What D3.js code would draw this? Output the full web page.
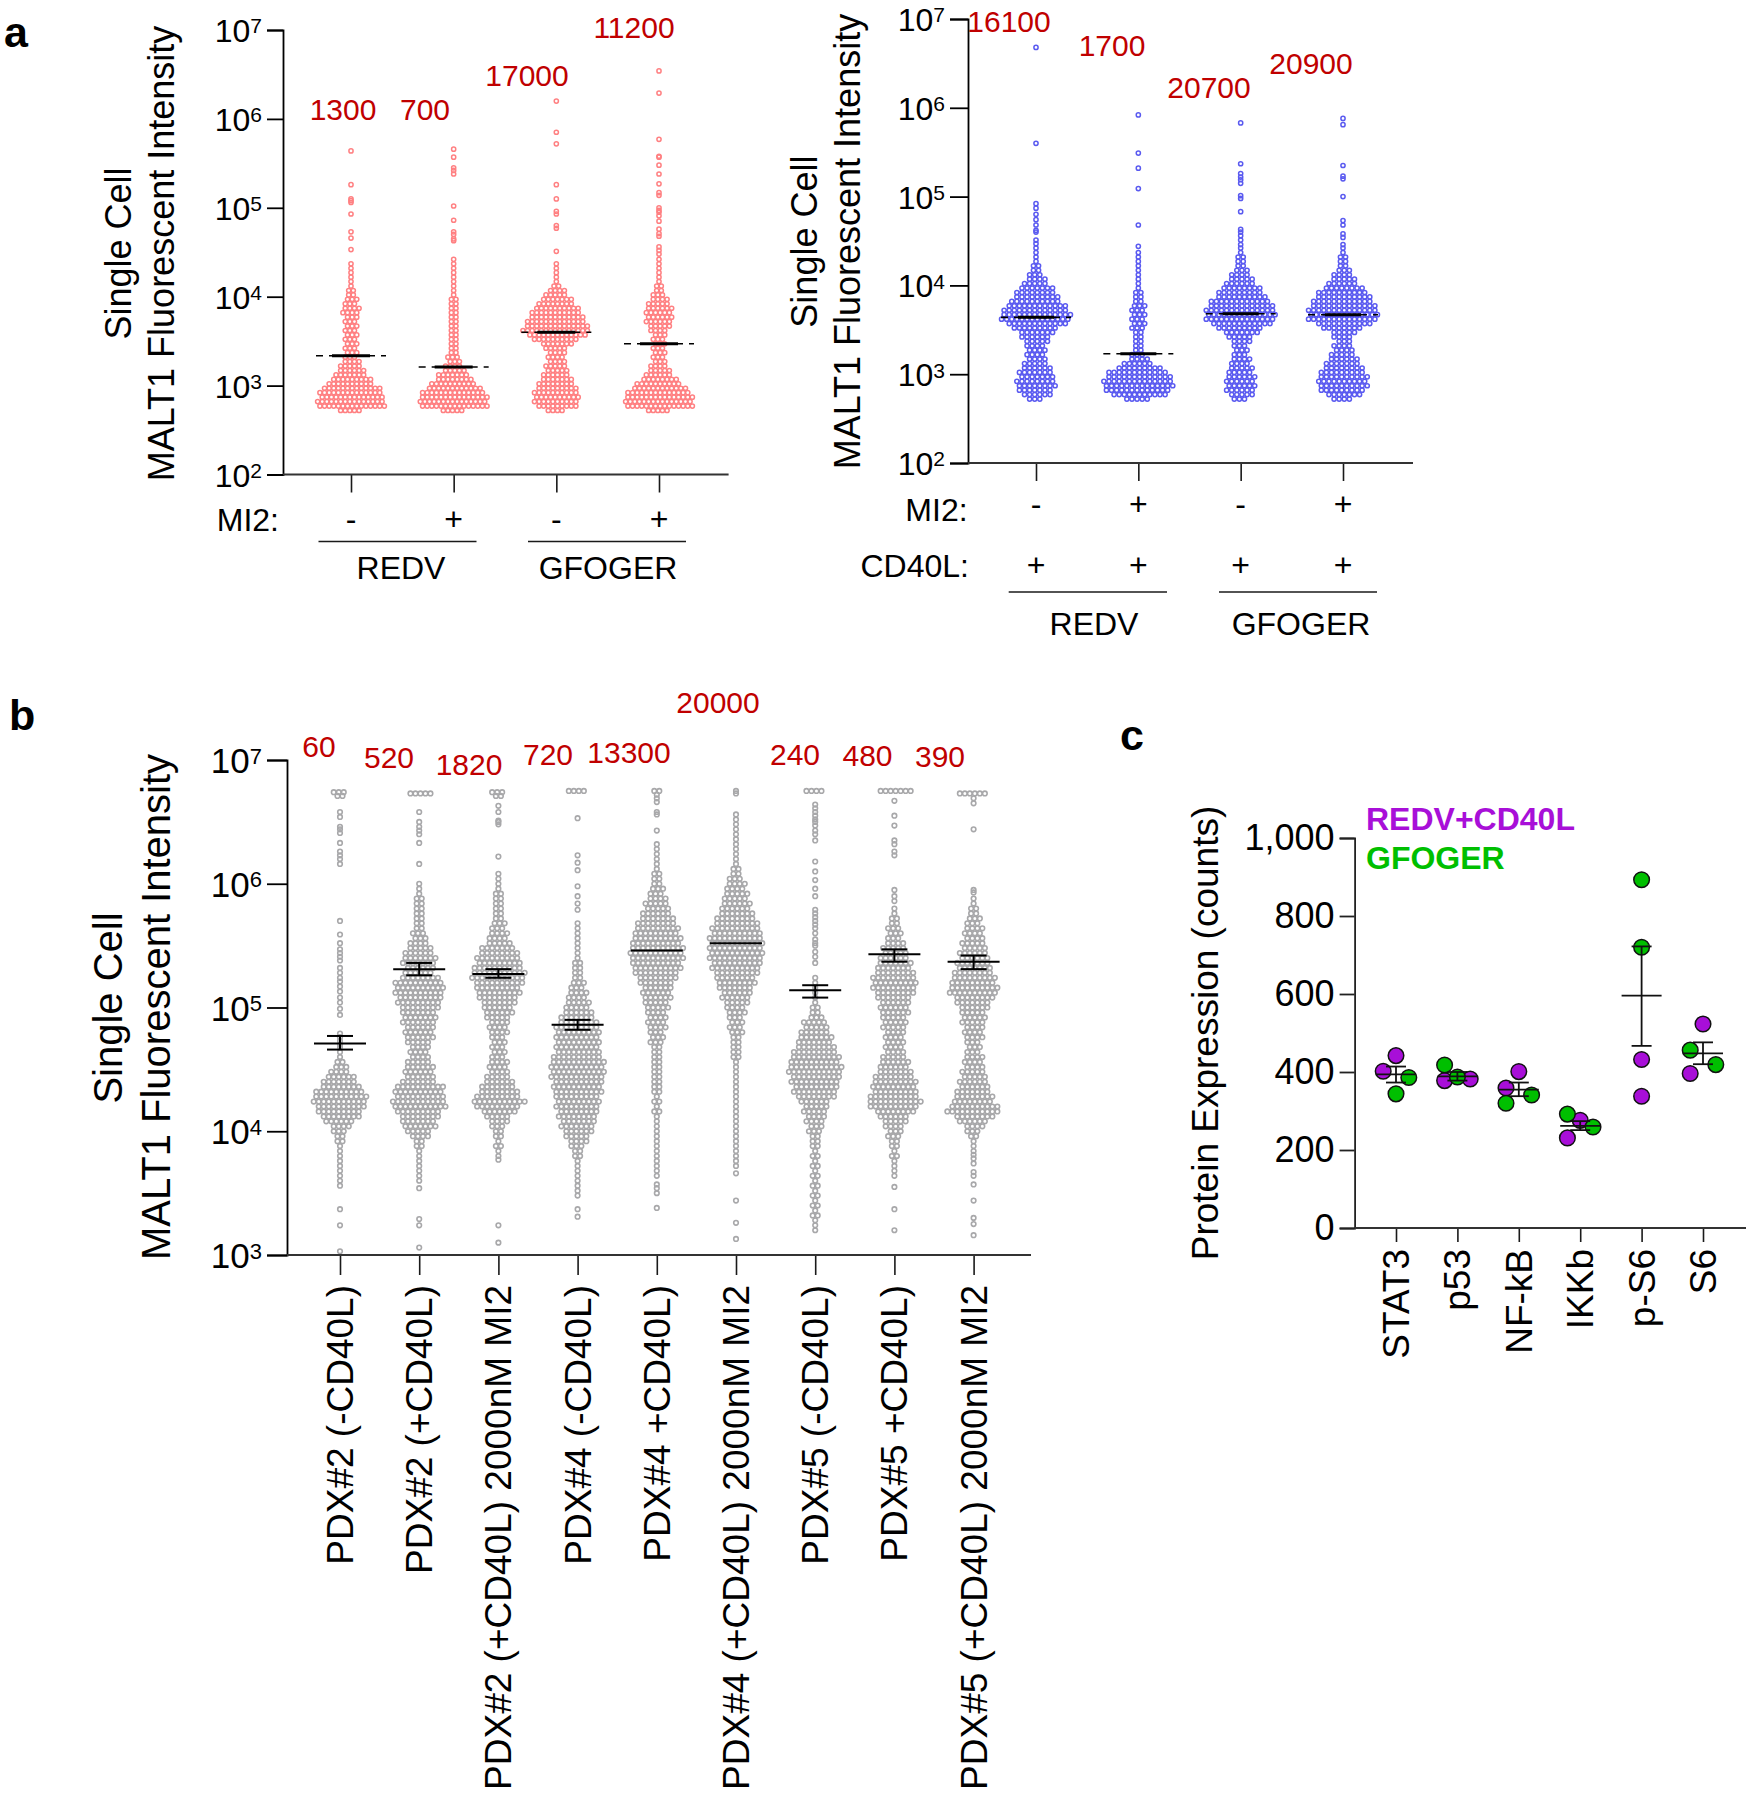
<!DOCTYPE html>
<html><head><meta charset="utf-8">
<style>html,body{margin:0;background:#fff}svg{display:block}text{font-family:"Liberation Sans",Arial,sans-serif}</style>
<script src="https://cdn.jsdelivr.net/npm/d3@7"></script></head><body><div id="c"></div>
<script>
// ---------- panel a data (log10 intensity rows, cell count read per row) ----------
const binsA=[2.72,2.77,2.82,2.87,2.92,2.97,3.02,3.07,3.12,3.17,3.22,3.27,3.32,3.37,3.42,3.47,3.52,3.57,3.62,3.67,3.72,3.77,3.82,3.87,3.92,3.97,4.02,4.07,4.12,4.17,4.22,4.27,4.32,4.37,4.42];
const catsA=["REDV -","REDV +","GFOGER -","GFOGER +"];
const leftCounts=[
 [5,15,15,14,14,13,10,9,7,6,5,4,3,3,3,3,3,3,3,3,3,3,4,4,3,3,2,2,1,1,1,1,1,0,0],
 [5,15,15,15,14,12,10,8,7,5,4,3,3,2,2,2,2,2,2,2,2,2,2,2,2,2,1,1,1,1,1,1,1,1,0],
 [4,9,10,10,10,9,8,7,6,5,5,4,4,4,5,7,10,13,15,14,13,12,11,10,8,7,5,4,2,1,1,1,1,1,0],
 [5,15,15,15,14,12,10,8,6,5,4,3,3,3,3,3,3,3,4,5,6,6,6,6,5,4,3,2,2,1,1,1,1,1,1]];
const leftOutliers=[
 [5.64,5.26,5.10,5.08,5.06,4.93,4.73,4.66,4.53,4.37],
 [5.66,5.57,5.45,5.42,5.38,5.02,4.86,4.73,4.70,4.65,4.63,4.42],
 [6.20,5.85,5.72,5.26,5.10,4.96,4.93,4.80,4.77,4.51],
 [6.54,6.29,5.77,5.58,5.57,5.48,5.38,5.27,5.17,5.14,5.00,4.97,4.95,4.91,4.85,4.76,4.71,4.68,4.56,4.52,4.48]];
const leftMedians=[3.335,3.21,3.60,3.47];
const leftN=["1300","700","17000","11200"];
const rightCounts=[
 [3,6,7,8,8,7,7,6,5,4,4,4,4,5,6,7,9,12,14,14,13,12,10,9,8,7,5,4,3,2,2,1,1,1,1],
 [5,11,13,14,14,13,12,9,6,4,3,2,2,2,2,2,3,3,3,3,3,3,2,2,2,1,1,1,1,1,1,1,1,1,0],
 [3,5,6,6,6,6,5,5,4,4,3,3,3,4,5,7,9,12,14,14,14,13,12,10,9,8,6,5,4,3,2,2,2,1,1],
 [4,7,9,10,10,10,9,8,7,6,5,4,4,3,4,5,8,11,14,14,14,13,12,11,10,8,6,5,4,3,2,2,2,1,1]];
const rightOutliers=[
 [6.68,5.60,4.92,4.87,4.80,4.74,4.68,4.62,4.60,4.51,4.47],
 [5.92,5.49,5.32,5.09,4.68,4.44],
 [5.83,5.37,5.26,5.22,5.19,5.15,5.01,4.98,4.83,4.63,4.60,4.56,4.51,4.46],
 [5.88,5.81,5.35,5.23,5.20,5.00,4.73,4.68,4.58,4.54,4.46]];
const rightMedians=[3.64,3.23,3.68,3.67];
const rightN=["16100","1700","20700","20900"];
const ticksA=[1e2,1e3,1e4,1e5,1e6,1e7];

// ---------- panel b data ([log10 intensity, cells in the row]) ----------
const catsB=["PDX#2 (-CD40L)","PDX#2 (+CD40L)","PDX#2 (+CD40L) 2000nM MI2","PDX#4 (-CD40L)","PDX#4 +CD40L)","PDX#4 (+CD40L) 2000nM MI2","PDX#5 (-CD40L)","PDX#5 +CD40L)","PDX#5 (+CD40L) 2000nM MI2"];
const pdx2Neg=[[3.60,1],[3.64,1],[3.68,1],[3.72,1],[3.76,1],[3.80,1],[3.84,1],[3.88,1],[3.92,2],[3.96,2],[4.00,3],[4.04,4],[4.08,6],[4.12,8],[4.16,9],[4.20,10],[4.24,11],[4.28,11],[4.32,10],[4.36,8],[4.40,7],[4.44,6],[4.48,4],[4.52,3],[4.56,2],[4.60,1],[4.64,1],[4.68,1],[6.74,3],[6.71,2]];
const pdx2Pos=[[3.60,1],[3.64,1],[3.68,1],[3.72,1],[3.76,1],[3.80,1],[3.84,1],[3.88,2],[3.92,2],[3.96,4],[4.00,5],[4.04,7],[4.08,7],[4.12,8],[4.16,9],[4.20,11],[4.24,11],[4.28,10],[4.32,10],[4.36,10],[4.40,7],[4.44,6],[4.48,6],[4.52,6],[4.56,5],[4.60,4],[4.64,4],[4.68,4],[4.72,5],[4.76,6],[4.80,6],[4.84,6],[4.88,7],[4.92,7],[4.96,7],[5.00,8],[5.04,9],[5.08,9],[5.12,10],[5.16,10],[5.20,10],[5.24,8],[5.28,6],[5.32,6],[5.36,7],[5.40,7],[5.44,6],[5.48,5],[5.52,4],[5.56,3],[5.60,3],[5.64,2],[5.68,2],[5.72,2],[5.76,2],[5.80,2],[5.84,2],[5.88,2],[5.92,1],[5.96,1],[6.00,1],[6.73,5]];
const pdx2Mi2=[[3.80,1],[3.84,1],[3.88,2],[3.92,1],[3.96,2],[4.00,2],[4.04,3],[4.08,4],[4.12,5],[4.16,7],[4.20,9],[4.24,11],[4.28,9],[4.32,8],[4.36,7],[4.40,6],[4.44,5],[4.48,4],[4.52,4],[4.56,4],[4.60,3],[4.64,3],[4.68,3],[4.72,3],[4.76,3],[4.80,4],[4.84,4],[4.88,4],[4.92,5],[4.96,6],[5.00,6],[5.04,7],[5.08,8],[5.12,9],[5.16,9],[5.20,10],[5.24,11],[5.28,11],[5.32,10],[5.36,9],[5.40,9],[5.44,8],[5.48,7],[5.52,5],[5.56,4],[5.60,4],[5.64,3],[5.68,3],[5.72,2],[5.76,2],[5.80,2],[5.84,2],[5.88,2],[5.92,2],[5.96,1],[6.00,1],[6.04,1],[6.08,1],[6.74,3],[6.71,2]];
const pdx4Neg=[[3.48,1],[3.52,1],[3.56,1],[3.60,1],[3.64,1],[3.68,1],[3.72,1],[3.76,1],[3.80,2],[3.84,2],[3.88,3],[3.92,4],[3.96,5],[4.00,6],[4.04,7],[4.08,7],[4.12,8],[4.16,8],[4.20,9],[4.24,9],[4.28,9],[4.32,10],[4.36,10],[4.40,10],[4.44,11],[4.48,11],[4.52,11],[4.56,11],[4.60,10],[4.64,9],[4.68,9],[4.72,9],[4.76,9],[4.80,9],[4.84,9],[4.88,8],[4.92,7],[4.96,6],[5.00,5],[5.04,5],[5.08,4],[5.12,4],[5.16,3],[5.20,3],[5.24,2],[5.28,2],[5.32,2],[5.36,2],[5.40,1],[5.44,1],[5.48,1],[5.52,1],[5.56,1],[5.60,1],[5.64,1],[5.68,1],[6.75,4]];
const pdx4Pos=[[3.68,1],[3.72,1],[3.76,1],[3.80,1],[3.84,1],[3.88,1],[3.92,1],[3.96,1],[4.00,1],[4.04,1],[4.08,1],[4.12,1],[4.16,2],[4.20,1],[4.24,2],[4.28,1],[4.32,2],[4.36,2],[4.40,2],[4.44,2],[4.48,2],[4.52,2],[4.56,2],[4.60,2],[4.64,2],[4.68,2],[4.72,3],[4.76,3],[4.80,3],[4.84,4],[4.88,4],[4.92,4],[4.96,4],[5.00,5],[5.04,5],[5.08,6],[5.12,6],[5.16,6],[5.20,7],[5.24,8],[5.28,9],[5.32,10],[5.36,10],[5.40,11],[5.44,11],[5.48,11],[5.52,10],[5.56,10],[5.60,9],[5.64,9],[5.68,8],[5.72,7],[5.76,6],[5.80,5],[5.84,5],[5.88,4],[5.92,3],[5.96,3],[6.00,2],[6.04,2],[6.08,2],[6.12,1],[6.16,1],[6.20,1],[6.24,1],[6.28,1],[6.32,1],[6.75,2],[6.72,1]];
const pdx4Mi2=[[3.72,1],[3.76,1],[3.80,1],[3.84,1],[3.88,1],[3.92,1],[3.96,1],[4.00,1],[4.04,1],[4.08,1],[4.12,1],[4.16,1],[4.20,1],[4.24,1],[4.28,1],[4.32,1],[4.36,1],[4.40,1],[4.44,1],[4.48,1],[4.52,1],[4.56,1],[4.60,2],[4.64,2],[4.68,2],[4.72,2],[4.76,2],[4.80,3],[4.84,3],[4.88,3],[4.92,3],[4.96,4],[5.00,4],[5.04,5],[5.08,6],[5.12,6],[5.16,7],[5.20,8],[5.24,8],[5.28,9],[5.32,10],[5.36,10],[5.40,11],[5.44,11],[5.48,11],[5.52,11],[5.56,11],[5.60,10],[5.64,10],[5.68,9],[5.72,8],[5.76,7],[5.80,6],[5.84,6],[5.88,5],[5.92,5],[5.96,4],[6.00,4],[6.04,3],[6.08,2],[6.12,2],[6.16,1],[6.20,1],[6.24,1],[6.28,1],[6.32,1],[6.36,1],[6.40,1],[6.44,1],[6.48,1],[6.52,1],[6.56,1],[6.75,1],[6.73,1]];
const pdx5Neg=[[3.20,1],[3.24,1],[3.28,1],[3.32,2],[3.36,1],[3.40,2],[3.44,1],[3.48,2],[3.52,1],[3.56,2],[3.60,1],[3.64,2],[3.68,1],[3.72,2],[3.76,1],[3.80,2],[3.84,1],[3.88,2],[3.92,2],[3.96,2],[4.00,3],[4.04,3],[4.08,4],[4.12,4],[4.16,5],[4.20,5],[4.24,6],[4.28,8],[4.32,9],[4.36,9],[4.40,10],[4.44,10],[4.48,11],[4.52,11],[4.56,10],[4.60,10],[4.64,9],[4.68,8],[4.72,7],[4.76,7],[4.80,6],[4.84,5],[4.88,5],[4.92,3],[4.96,2],[5.00,2],[5.04,1],[5.08,1],[5.12,1],[5.16,1],[5.20,1],[5.24,1],[6.75,4]];
const pdx5Pos=[[3.64,1],[3.68,1],[3.72,1],[3.76,1],[3.80,2],[3.84,1],[3.88,2],[3.92,2],[3.96,3],[4.00,3],[4.04,4],[4.08,5],[4.12,6],[4.16,8],[4.20,10],[4.24,11],[4.28,10],[4.32,9],[4.36,9],[4.40,9],[4.44,8],[4.48,7],[4.52,6],[4.56,6],[4.60,5],[4.64,4],[4.68,4],[4.72,4],[4.76,4],[4.80,4],[4.84,5],[4.88,5],[4.92,5],[4.96,6],[5.00,6],[5.04,6],[5.08,7],[5.12,8],[5.16,9],[5.20,9],[5.24,9],[5.28,8],[5.32,7],[5.36,7],[5.40,6],[5.44,5],[5.48,5],[5.52,4],[5.56,3],[5.60,3],[5.64,3],[5.68,2],[5.72,2],[5.76,1],[5.80,1],[6.75,7]];
const pdx5Mi2=[[3.84,1],[3.88,1],[3.92,1],[3.96,2],[4.00,3],[4.04,4],[4.08,6],[4.12,8],[4.16,11],[4.20,10],[4.24,8],[4.28,8],[4.32,7],[4.36,6],[4.40,6],[4.44,5],[4.48,5],[4.52,4],[4.56,4],[4.60,4],[4.64,3],[4.68,3],[4.72,3],[4.76,4],[4.80,4],[4.84,4],[4.88,5],[4.92,5],[4.96,5],[5.00,6],[5.04,7],[5.08,8],[5.12,10],[5.16,10],[5.20,9],[5.24,9],[5.28,8],[5.32,7],[5.36,7],[5.40,6],[5.44,6],[5.48,5],[5.52,5],[5.56,4],[5.60,4],[5.64,4],[5.68,3],[5.72,3],[5.76,2],[5.80,2],[5.84,1],[5.88,1],[6.73,6]];
const rowsB=[pdx2Neg,pdx2Pos,pdx2Mi2,pdx4Neg,pdx4Pos,pdx4Mi2,pdx5Neg,pdx5Pos,pdx5Mi2];
const outliersB=[
 [3.03,3.24,3.37,3.56,4.70,4.73,4.76,4.79,4.94,4.99,5.04,5.08,5.13,5.17,5.21,5.24,5.28,5.32,5.38,5.41,5.44,5.47,5.52,5.59,5.70,6.16,6.20,6.23,6.26,6.33,6.41,6.44,6.46,6.54,6.58],
 [3.06,3.24,3.29,3.54,6.16,6.33,6.40,6.43,6.46,6.50,6.58],
 [3.10,3.24,3.77,6.22,6.48,6.50,6.51,6.58,6.63],
 [3.31,3.37,5.79,5.84,5.90,5.98,6.11,6.17,6.23,6.53],
 [3.38,3.50,3.54,3.57,3.64,6.43,6.56,6.58,6.66,6.69],
 [3.13,3.26,3.44,3.66],
 [5.36,5.41,5.45,5.50,5.52,5.55,5.60,5.64,5.67,5.70,5.73,5.76,5.79,5.90,5.96,6.03,6.10,6.18,6.35,6.40,6.43,6.47,6.50,6.52,6.55,6.58,6.61,6.64],
 [3.20,3.37,3.55,5.86,5.90,5.95,6.23,6.26,6.32,6.35,6.47,6.55,6.67],
 [3.16,3.25,3.30,3.44,3.57,3.64,3.67,3.74,3.78,3.81,5.93,5.95,6.44,6.65,6.69]];
const meansB=[4.71,5.31,5.27,4.86,5.46,5.52,5.14,5.43,5.37];
const errHiB=[4.77,5.36,5.31,4.90,5.46,5.52,5.18,5.47,5.42];
const errLoB=[4.66,5.26,5.24,4.82,5.46,5.52,5.08,5.37,5.31];
const nB=["60","520","1820","720","13300","20000","240","480","390"];
const ticksB=[1e3,1e4,1e5,1e6,1e7];

// ---------- panel c data ----------
const catsC=["STAT3","p53","NF-kB","IKKb","p-S6","S6"];
const redvVals=[[442,402],[378,382],[401,359],[276,231],[432,338],[523,396]];
const gfogerVals=[[386,344],[418,387],[320,341],[292,259],[893,720],[456,419]];
const redvSlots=[[0,-1],[-1,1],[0,-1],[0,-1],[0,0],[0,-1]];
const gfogerSlots=[[1,0],[-1,0],[-1,1],[-1,1],[0,0],[-1,1]];
const meansC=[394,389,355,262,596,448];
const errHiC=[414,400,373,274,722,476];
const errLoC=[373,378,338,251,467,420];
const ticksC=[0,200,400,600,800,1000];

// ---------- drawing ----------
const svg=d3.select("#c").append("svg").attr("width",1751).attr("height",1800);
const RED="#c00000";
function T(x,y,s,size,o={}){
  const t=svg.append("text").attr("transform",`translate(${x},${y})`+(o.rot?` rotate(${o.rot})`:""))
   .attr("font-size",size).attr("text-anchor",o.a||"middle").attr("fill",o.c||"#000").text(s);
  if(o.b)t.attr("font-weight","bold");
  return t;
}
function lineAt(x1,y1,x2,y2,w=1.8,c="#1a1a1a",dash){
  const l=svg.append("line").attr("x1",x1).attr("y1",y1).attr("x2",x2).attr("y2",y2).attr("stroke",c).attr("stroke-width",w);
  if(dash)l.attr("stroke-dasharray",dash);
  return l;
}
function logAxis(y,ticks,ax,size,supSize,tickLen){
  const g=svg.append("g").attr("transform",`translate(${ax},0)`)
    .call(d3.axisLeft(y).tickValues(ticks).tickSize(tickLen).tickFormat(""));
  g.select(".domain").attr("stroke","#000").attr("stroke-width",1.8);
  g.selectAll(".tick line").attr("stroke","#000").attr("stroke-width",1.8);
  g.selectAll(".tick").each(function(v){
    const t=d3.select(this).select("text").attr("fill","#000").attr("text-anchor","end")
      .attr("x",-(tickLen+5)).attr("y",0).attr("dy",size*0.36).attr("font-size",size);
    t.text(null);
    t.append("tspan").text("10");
    t.append("tspan").attr("font-size",supSize).attr("dy",-size*0.27).text(Math.round(Math.log10(v)));
  });
}
function xAxis(x,yPos,axisStart,axisEnd,tickLen){
  const g=svg.append("g").attr("transform",`translate(0,${yPos})`)
    .call(d3.axisBottom(x).tickSize(tickLen).tickFormat(""));
  g.select(".domain").remove();
  g.selectAll(".tick line").attr("stroke","#1a1a1a").attr("stroke-width",1.6);
  lineAt(axisStart,yPos,axisEnd,yPos,1.8,"#333");
}
// rows -> points: each point gets a slot in cell widths away from the group centre
function swarmPoints(rows,outliers){
  const pts=[];
  rows.forEach(([e,n],r)=>{
    const shift=n>=3?(r%2?0.25:-0.25):0;
    d3.range(n).forEach(i=>pts.push({e,slot:i-(n-1)/2+shift}));
  });
  outliers.forEach(e=>pts.push({e,slot:0}));
  return pts;
}
function swarm(cx,y,rows,outliers,cell,r,w,color){
  const dx=d3.scaleLinear().domain([0,1]).range([0,cell]);
  svg.append("g").selectAll("circle").data(swarmPoints(rows,outliers)).join("circle")
   .attr("cx",d=>cx+dx(d.slot)).attr("cy",d=>y(10**d.e)).attr("r",r)
   .attr("fill","none").attr("stroke",color).attr("stroke-width",w);
}
function medianMark(cx,yv,halfDash,halfThick){
  lineAt(cx-halfDash,yv,cx+halfDash,yv,1.6,"#000","7,6");
  lineAt(cx-halfThick,yv,cx+halfThick,yv,3,"#000");
}

// panel a, left
{
  const y=d3.scaleLog().domain([1e2,1e7]).range([474.5,30]);
  const x=d3.scalePoint().domain(catsA).range([351,659]);
  catsA.forEach((c,i)=>{
    const rows=binsA.map((b,j)=>[b,leftCounts[i][j]]).filter(d=>d[1]>0);
    swarm(x(c),y,rows,leftOutliers[i],4.6,2.1,1.5,"#ff8082");
    medianMark(x(c),y(10**leftMedians[i]),35,19);
  });
  logAxis(y,ticksA,283,32,21,16);
  xAxis(x,474.5,283,728.6,18);
  [[343,110],[425,110],[527,76],[634,28]].forEach((p,i)=>T(p[0],p[1]+10,leftN[i],30,{c:RED}));
  T(119+12,253.5,"Single Cell",36,{rot:-90});
  T(162+12,253.5,"MALT1 Fluorescent Intensity",36,{rot:-90});
  T(279,531,"MI2:",32,{a:"end"});
  ["-","+","-","+"].forEach((s,i)=>T(x(catsA[i]),530,s,32));
  lineAt(318.5,541.5,476.5,541.5,1.6);lineAt(528,541.5,686,541.5,1.6);
  T(401,579,"REDV",32);T(608,579,"GFOGER",32);
}
// panel a, right
{
  const y=d3.scaleLog().domain([1e2,1e7]).range([463,19]);
  const x=d3.scalePoint().domain(catsA).range([1036,1343]);
  catsA.forEach((c,i)=>{
    const rows=binsA.map((b,j)=>[b,rightCounts[i][j]]).filter(d=>d[1]>0);
    swarm(x(c),y,rows,rightOutliers[i],5.1,2.1,1.5,"#5a5af0");
    medianMark(x(c),y(10**rightMedians[i]),35,18);
  });
  logAxis(y,ticksA,968,32,21,18);
  xAxis(x,463,968,1413,18);
  [[1009,22],[1112,46],[1209,88],[1311,64]].forEach((p,i)=>T(p[0],p[1]+10,rightN[i],30,{c:RED}));
  T(805+12,241.6,"Single Cell",36,{rot:-90});
  T(848+12,241.6,"MALT1 Fluorescent Intensity",36,{rot:-90});
  T(967.6,521,"MI2:",32,{a:"end"});
  T(969,577,"CD40L:",32,{a:"end"});
  ["-","+","-","+"].forEach((s,i)=>T(x(catsA[i]),515,s,32));
  catsA.forEach(c=>T(x(c),576,"+",32));
  lineAt(1008.7,592,1167,592,1.6);lineAt(1219,592,1377,592,1.6);
  T(1094,635,"REDV",32);T(1301,635,"GFOGER",32);
}
// panel b
{
  const y=d3.scaleLog().domain([1e3,1e7]).range([1255,760]);
  const x=d3.scalePoint().domain(catsB).range([340,973.6]);
  catsB.forEach((c,i)=>{
    swarm(x(c),y,rowsB[i],outliersB[i],5,2.3,1.6,"#a8a8aa");
    const cy=y(10**meansB[i]);
    lineAt(x(c)-26,cy,x(c)+26,cy,2,"#000");
    if(errHiB[i]!==errLoB[i]){
      const a=y(10**errHiB[i]),b=y(10**errLoB[i]);
      lineAt(x(c),a,x(c),b,2,"#000");
      lineAt(x(c)-13,a,x(c)+13,a,2,"#000");
      lineAt(x(c)-13,b,x(c)+13,b,2,"#000");
    }
  });
  logAxis(y,ticksB,287,35,22,20);
  xAxis(x,1255,287,1031,20);
  [[319,747],[389,758],[469,765],[548,755],[629,753],[718,703],[795,755],[867.5,756],[940,756.5]]
    .forEach((p,i)=>T(p[0],p[1]+10,nB[i],30,{c:RED}));
  T(109+13,1008,"Single Cell",40,{rot:-90});
  T(156.5+13,1007,"MALT1 Fluorescent Intensity",40,{rot:-90});
  catsB.forEach(c=>T(x(c)+13,1285,c,37,{rot:-90,a:"end"}));
}
// panel c
{
  const y=d3.scaleLinear().domain([0,1000]).range([1228,838]);
  const x=d3.scalePoint().domain(catsC).range([1396,1703]);
  const slot=d3.scaleLinear().domain([0,1]).range([0,12.8]);
  catsC.forEach((c,i)=>{
    const pts=[...redvVals[i].map((v,j)=>({v,s:redvSlots[i][j],f:"#a80fd8"})),
               ...gfogerVals[i].map((v,j)=>({v,s:gfogerSlots[i][j],f:"#00bf00"}))];
    svg.append("g").selectAll("circle").data(pts).join("circle")
      .attr("cx",d=>x(c)+slot(d.s)).attr("cy",d=>y(d.v)).attr("r",7.8)
      .attr("fill",d=>d.f).attr("stroke","#111").attr("stroke-width",1.5);
    const m=y(meansC[i]),a=y(errHiC[i]),b=y(errLoC[i]);
    lineAt(x(c)-20,m,x(c)+20,m,1.8,"#111");
    lineAt(x(c),a,x(c),b,1.8,"#111");
    lineAt(x(c)-10,a,x(c)+10,a,1.8,"#111");
    lineAt(x(c)-10,b,x(c)+10,b,1.8,"#111");
  });
  const g=svg.append("g").attr("transform","translate(1354.6,0)")
    .call(d3.axisLeft(y).tickValues(ticksC).tickSize(15));
  g.select(".domain").attr("stroke","#222").attr("stroke-width",1.8);
  g.selectAll(".tick line").attr("stroke","#222").attr("stroke-width",1.8);
  g.selectAll(".tick text").attr("font-size",36).attr("fill","#000").attr("x",-20);
  xAxis(x,1228,1354.6,1746,14);
  catsC.forEach(c=>T(x(c)+13,1249,c,37,{rot:-90,a:"end"}));
  T(1204.6+13,1033,"Protein Expression (counts)",37,{rot:-90});
  T(1366,830,"REDV+CD40L",32,{a:"start",b:1,c:"#a80fd8"});
  T(1366,869,"GFOGER",32,{a:"start",b:1,c:"#00bf00"});
}
T(4,47,"a",43,{a:"start",b:1});
T(9,730,"b",43,{a:"start",b:1});
T(1120,750,"c",43,{a:"start",b:1});
</script></body></html>
